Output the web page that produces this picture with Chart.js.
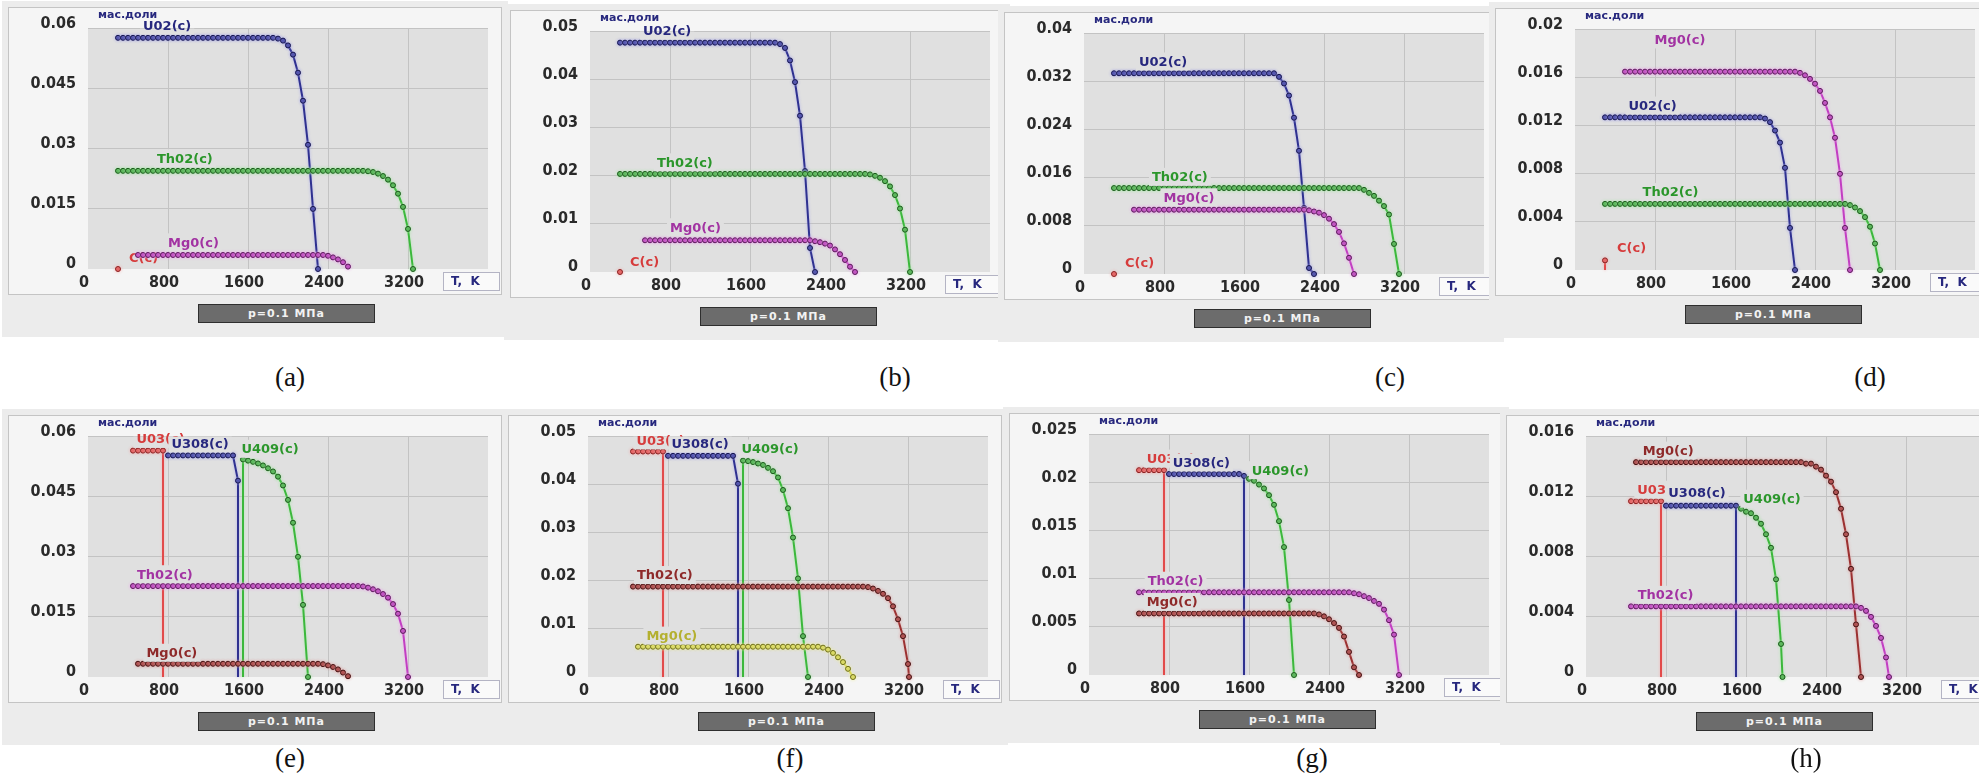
<!DOCTYPE html>
<html>
<head>
<meta charset="utf-8">
<script src="https://cdn.jsdelivr.net/npm/chart.js@4.4.1/dist/chart.umd.min.js"></script>
<style>
  html, body { margin: 0; padding: 0; background: #fff; }
  body { width: 1979px; height: 778px; overflow: hidden; position: relative; }
  .win { position: absolute; background: #ececec; }
  .frame { position: absolute; background: #f5f5f5; border: 1px solid #c4c4c4; box-sizing: border-box; }
  canvas { position: absolute; }
  .bar {
    position: absolute; width: 177px; height: 19px; box-sizing: border-box;
    background: #6c6c6c; border: 1px solid #2e2e2e; color: #f2f2f2;
    font: bold 11px "DejaVu Sans", sans-serif; letter-spacing: 1px;
    text-align: center; line-height: 17px;
  }
  .tag { position: absolute; font: 27px "Liberation Serif", serif; color: #111; transform: translate(-50%, -50%); }
</style>
</head>
<body>
<script>
const _ = null;

// temperature grid of the equilibrium calculation, K
const TEMPS = [
  300, 350, 400, 450, 500, 550, 600, 650, 700, 750,
  800, 850, 900, 950, 1000, 1050, 1100, 1150, 1200, 1250,
  1300, 1350, 1400, 1450, 1500, 1550, 1600, 1650, 1700, 1750,
  1800, 1850, 1900, 1950, 2000, 2050, 2100, 2150, 2200, 2250,
  2300, 2350, 2400, 2450, 2500, 2550, 2600, 2650, 2700, 2750,
  2800, 2850, 2900, 2950, 3000, 3050, 3100, 3150, 3200, 3250,
  3300, 3350, 3400
];
const X_TICKS = [0, 800, 1600, 2400, 3200];

const Y_TICKS_A = [0, 0.015, 0.03, 0.045, 0.06];
const Y_TICKS_B = [0, 0.01, 0.02, 0.03, 0.04, 0.05];
const Y_TICKS_C = [0, 0.008, 0.016, 0.024, 0.032, 0.04];
const Y_TICKS_D = [0, 0.004, 0.008, 0.012, 0.016, 0.02];
const Y_TICKS_E = [0, 0.015, 0.03, 0.045, 0.06];
const Y_TICKS_F = [0, 0.01, 0.02, 0.03, 0.04, 0.05];
const Y_TICKS_G = [0, 0.005, 0.01, 0.015, 0.02, 0.025];
const Y_TICKS_H = [0, 0.004, 0.008, 0.012, 0.016];

const CAPTIONS = ['(a)', '(b)', '(c)', '(d)', '(e)', '(f)', '(g)', '(h)'];

// mass fractions of condensed phases on the TEMPS grid (null = phase absent)
// (a)
const A_UO2 = [
  .0577, .0577, .0577, .0577, .0577, .0577, .0577, .0577, .0577, .0577,
  .0577, .0577, .0577, .0577, .0577, .0577, .0577, .0577, .0577, .0577,
  .0577, .0577, .0577, .0577, .0577, .0577, .0577, .0577, .0577, .0577,
  .0577, .0577, .0575, .0570, .0558, .0535, .0490, .0420, .0310, .0150,
  0
];
const A_THO2 = [
  .0245, .0245, .0245, .0245, .0245, .0245, .0245, .0245, .0245, .0245,
  .0245, .0245, .0245, .0245, .0245, .0245, .0245, .0245, .0245, .0245,
  .0245, .0245, .0245, .0245, .0245, .0245, .0245, .0245, .0245, .0245,
  .0245, .0245, .0245, .0245, .0245, .0245, .0245, .0245, .0245, .0245,
  .0245, .0245, .0245, .0245, .0245, .0245, .0245, .0245, .0245, .0245,
  .0244, .0242, .0238, .0232, .0223, .0209, .0188, .0155, .0100, 0
];
const A_MGO = [
  _, _, _, _, .0035, .0035, .0035, .0035, .0035, .0035,
  .0035, .0035, .0035, .0035, .0035, .0035, .0035, .0035, .0035, .0035,
  .0035, .0035, .0035, .0035, .0035, .0035, .0035, .0035, .0035, .0035,
  .0035, .0035, .0035, .0035, .0035, .0035, .0035, .0035, .0035, .0035,
  .0035, .0035, .0033, .0029, .0024, .0017, .0006
];
const A_C = [0];

// (b)
const B_UO2 = [
  .0477, .0477, .0477, .0477, .0477, .0477, .0477, .0477, .0477, .0477,
  .0477, .0477, .0477, .0477, .0477, .0477, .0477, .0477, .0477, .0477,
  .0477, .0477, .0477, .0477, .0477, .0477, .0477, .0477, .0477, .0477,
  .0477, .0477, .0474, .0466, .0440, .0395, .0325, .0210, .0050, 0
];
const B_THO2 = [
  .0204, .0204, .0204, .0204, .0204, .0204, .0204, .0204, .0204, .0204,
  .0204, .0204, .0204, .0204, .0204, .0204, .0204, .0204, .0204, .0204,
  .0204, .0204, .0204, .0204, .0204, .0204, .0204, .0204, .0204, .0204,
  .0204, .0204, .0204, .0204, .0204, .0204, .0204, .0204, .0204, .0204,
  .0204, .0204, .0204, .0204, .0204, .0204, .0204, .0204, .0204, .0204,
  .0203, .0200, .0196, .0189, .0178, .0160, .0132, .0088, 0
];
const B_MGO = [
  _, _, _, _, _, .0066, .0066, .0066, .0066, .0066,
  .0066, .0066, .0066, .0066, .0066, .0066, .0066, .0066, .0066, .0066,
  .0066, .0066, .0066, .0066, .0066, .0066, .0066, .0066, .0066, .0066,
  .0066, .0066, .0066, .0066, .0066, .0066, .0066, .0066, .0066, .0064,
  .0062, .0059, .0055, .0047, .0037, .0025, .0011, 0
];
const B_C = [0];

// (c)
const C_UO2 = [
  .0334, .0334, .0334, .0334, .0334, .0334, .0334, .0334, .0334, .0334,
  .0334, .0334, .0334, .0334, .0334, .0334, .0334, .0334, .0334, .0334,
  .0334, .0334, .0334, .0334, .0334, .0334, .0334, .0334, .0334, .0334,
  .0334, .0334, .0334, .0328, .0317, .0297, .0260, .0205, .0110, .0010,
  0
];
const C_THO2 = [
  .0143, .0143, .0143, .0143, .0143, .0143, .0143, .0143, .0143, .0143,
  .0143, .0143, .0143, .0143, .0143, .0143, .0143, .0143, .0143, .0143,
  .0143, .0143, .0143, .0143, .0143, .0143, .0143, .0143, .0143, .0143,
  .0143, .0143, .0143, .0143, .0143, .0143, .0143, .0143, .0143, .0143,
  .0143, .0143, .0143, .0143, .0143, .0143, .0143, .0143, .0143, .0143,
  .0140, .0135, .0130, .0122, .0113, .0099, .0050, 0
];
const C_MGO = [
  _, _, _, _, .0107, .0107, .0107, .0107, .0107, .0107,
  .0107, .0107, .0107, .0107, .0107, .0107, .0107, .0107, .0107, .0107,
  .0107, .0107, .0107, .0107, .0107, .0107, .0107, .0107, .0107, .0107,
  .0107, .0107, .0107, .0107, .0107, .0107, .0107, .0107, .0107, .0106,
  .0104, .0102, .0098, .0092, .0083, .0070, .0051, .0027, 0
];
const C_C = [0];

// (d)
const D_MGO = [
  _, _, _, _, .0165, .0165, .0165, .0165, .0165, .0165,
  .0165, .0165, .0165, .0165, .0165, .0165, .0165, .0165, .0165, .0165,
  .0165, .0165, .0165, .0165, .0165, .0165, .0165, .0165, .0165, .0165,
  .0165, .0165, .0165, .0165, .0165, .0165, .0165, .0165, .0165, .0164,
  .0162, .0159, .0155, .0149, .0139, .0127, .0110, .0080, .0035, 0
];
const D_UO2 = [
  .0127, .0127, .0127, .0127, .0127, .0127, .0127, .0127, .0127, .0127,
  .0127, .0127, .0127, .0127, .0127, .0127, .0127, .0127, .0127, .0127,
  .0127, .0127, .0127, .0127, .0127, .0127, .0127, .0127, .0127, .0127,
  .0127, .0127, .0126, .0123, .0116, .0106, .0085, .0035, 0
];
const D_THO2 = [
  .0055, .0055, .0055, .0055, .0055, .0055, .0055, .0055, .0055, .0055,
  .0055, .0055, .0055, .0055, .0055, .0055, .0055, .0055, .0055, .0055,
  .0055, .0055, .0055, .0055, .0055, .0055, .0055, .0055, .0055, .0055,
  .0055, .0055, .0055, .0055, .0055, .0055, .0055, .0055, .0055, .0055,
  .0055, .0055, .0055, .0055, .0055, .0055, .0055, .0055, .0055, .0054,
  .0052, .0049, .0044, .0036, .0022, 0
];
const D_C = [.0008];

// (e)
const E_UO3 = [_, _, _, .0565, .0565, .0565, .0565, .0565, .0565, .0565];
const E_U3O8 = [
  _, _, _, _, _, _, _, _, _, _,
  .0553, .0553, .0553, .0553, .0553, .0553, .0553, .0553, .0553, .0553,
  .0553, .0553, .0553, .0553, .0490
];
const E_U4O9 = [
  _, _, _, _, _, _, _, _, _, _,
  _, _, _, _, _, _, _, _, _, _,
  _, _, _, _, _, .0543, .0540, .0537, .0533, .0528,
  .0521, .0513, .0500, .0478, .0442, .0385, .0300, .0180, 0
];
const E_THO2 = [
  _, _, _, .0227, .0227, .0227, .0227, .0227, .0227, .0227,
  .0227, .0227, .0227, .0227, .0227, .0227, .0227, .0227, .0227, .0227,
  .0227, .0227, .0227, .0227, .0227, .0227, .0227, .0227, .0227, .0227,
  .0227, .0227, .0227, .0227, .0227, .0227, .0227, .0227, .0227, .0227,
  .0227, .0227, .0227, .0227, .0227, .0227, .0227, .0227, .0227, .0226,
  .0223, .0219, .0214, .0207, .0198, .0182, .0158, .0115, 0
];
const E_MGO = [
  _, _, _, _, .0033, .0033, .0033, .0033, .0033, .0033,
  .0033, .0033, .0033, .0033, .0033, .0033, .0033, .0033, .0033, .0033,
  .0033, .0033, .0033, .0033, .0033, .0033, .0033, .0033, .0033, .0033,
  .0033, .0033, .0033, .0033, .0033, .0033, .0033, .0033, .0033, .0033,
  .0033, .0032, .0029, .0025, .0019, .0011, .0002
];

// (f)
const F_UO3 = [_, _, _, .0469, .0469, .0469, .0469, .0469, .0469, .0469];
const F_U3O8 = [
  _, _, _, _, _, _, _, _, _, _,
  .0460, .0460, .0460, .0460, .0460, .0460, .0460, .0460, .0460, .0460,
  .0460, .0460, .0460, .0460, .0402
];
const F_U4O9 = [
  _, _, _, _, _, _, _, _, _, _,
  _, _, _, _, _, _, _, _, _, _,
  _, _, _, _, _, .0450, .0449, .0447, .0444, .0441,
  .0435, .0428, .0415, .0389, .0351, .0290, .0205, .0085, 0
];
const F_THO2 = [
  _, _, _, .0188, .0188, .0188, .0188, .0188, .0188, .0188,
  .0188, .0188, .0188, .0188, .0188, .0188, .0188, .0188, .0188, .0188,
  .0188, .0188, .0188, .0188, .0188, .0188, .0188, .0188, .0188, .0188,
  .0188, .0188, .0188, .0188, .0188, .0188, .0188, .0188, .0188, .0188,
  .0188, .0188, .0188, .0188, .0188, .0188, .0188, .0188, .0188, .0188,
  .0187, .0184, .0179, .0173, .0164, .0147, .0120, .0085, .0027
];
const F_MGO = [
  _, _, _, _, .0063, .0063, .0063, .0063, .0063, .0063,
  .0063, .0063, .0063, .0063, .0063, .0063, .0063, .0063, .0063, .0063,
  .0063, .0063, .0063, .0063, .0063, .0063, .0063, .0063, .0063, .0063,
  .0063, .0063, .0063, .0063, .0063, .0063, .0063, .0063, .0063, .0063,
  .0063, .0061, .0057, .0050, .0041, .0031, .0017, 0
];

// (g)
const G_UO3 = [_, _, _, _, .0213, .0213, .0213, .0213, .0213, .0213];
const G_U3O8 = [
  _, _, _, _, _, _, _, _, _, _,
  .0209, .0209, .0209, .0209, .0209, .0209, .0209, .0209, .0209, .0209,
  .0209, .0209, .0209, .0209, .0209, .0207
];
const G_U4O9 = [
  _, _, _, _, _, _, _, _, _, _,
  _, _, _, _, _, _, _, _, _, _,
  _, _, _, _, _, _, .0204, .0202, .0198, .0194,
  .0187, .0177, .0160, .0133, .0078, 0
];
const G_THO2 = [
  _, _, _, _, .0086, .0086, .0086, .0086, .0086, .0086,
  .0086, .0086, .0086, .0086, .0086, .0086, .0086, .0086, .0086, .0086,
  .0086, .0086, .0086, .0086, .0086, .0086, .0086, .0086, .0086, .0086,
  .0086, .0086, .0086, .0086, .0086, .0086, .0086, .0086, .0086, .0086,
  .0086, .0086, .0086, .0086, .0086, .0086, .0086, .0085, .0084, .0082,
  .0080, .0077, .0074, .0068, .0057, .0042, 0
];
const G_MGO = [
  _, _, _, _, .0064, .0064, .0064, .0064, .0064, .0064,
  .0064, .0064, .0064, .0064, .0064, .0064, .0064, .0064, .0064, .0064,
  .0064, .0064, .0064, .0064, .0064, .0064, .0064, .0064, .0064, .0064,
  .0064, .0064, .0064, .0064, .0064, .0064, .0064, .0064, .0064, .0064,
  .0063, .0061, .0058, .0054, .0049, .0040, .0024, .0008, 0
];

// (h)
const H_MGO = [
  _, _, _, _, .0143, .0143, .0143, .0143, .0143, .0143,
  .0143, .0143, .0143, .0143, .0143, .0143, .0143, .0143, .0143, .0143,
  .0143, .0143, .0143, .0143, .0143, .0143, .0143, .0143, .0143, .0143,
  .0143, .0143, .0143, .0143, .0143, .0143, .0143, .0143, .0142, .0142,
  .0140, .0138, .0134, .0130, .0123, .0112, .0095, .0072, .0035, 0
];
const H_UO3 = [_, _, _, .0117, .0117, .0117, .0117, .0117, .0117, .0117];
const H_U3O8 = [
  _, _, _, _, _, _, _, _, _, _,
  .0114, .0114, .0114, .0114, .0114, .0114, .0114, .0114, .0114, .0114,
  .0114, .0114, .0114, .0114, .0114
];
const H_U4O9 = [
  _, _, _, _, _, _, _, _, _, _,
  _, _, _, _, _, _, _, _, _, _,
  _, _, _, _, _, .0112, .0110, .0109, .0106, .0102,
  .0095, .0086, .0065, .0022
];
const H_THO2 = [
  _, _, _, .0047, .0047, .0047, .0047, .0047, .0047, .0047,
  .0047, .0047, .0047, .0047, .0047, .0047, .0047, .0047, .0047, .0047,
  .0047, .0047, .0047, .0047, .0047, .0047, .0047, .0047, .0047, .0047,
  .0047, .0047, .0047, .0047, .0047, .0047, .0047, .0047, .0047, .0047,
  .0047, .0047, .0047, .0047, .0047, .0047, .0047, .0047, .0047, .0046,
  .0044, .0040, .0034, .0026, .0013
];

const PALETTE = {
  navy:    { line: '#2f3190', fill: '#3a3c9c', point: '#16164e', text: '#27287e', halo: 'rgba(170,170,235,0.9)' },
  green:   { line: '#3cb83c', fill: '#44a844', point: '#1c5a1c', text: '#2b962b', halo: 'rgba(170,235,170,0.9)' },
  magenta: { line: '#c23fc2', fill: '#b43ab4', point: '#5a1a5a', text: '#a233a2', halo: 'rgba(240,170,240,0.9)' },
  red:     { line: '#e24a4a', fill: '#e05050', point: '#8a2222', text: '#d63c3c', halo: 'rgba(245,175,175,0.9)' },
  maroon:  { line: '#9b3131', fill: '#a03838', point: '#441212', text: '#8e2a2a', halo: 'rgba(230,170,170,0.9)' },
  yellow:  { line: '#d8d84c', fill: '#d4d450', point: '#6e6e1a', text: '#b4b030', halo: 'rgba(240,240,170,0.9)' }
};
const PLOT_BG = '#e0e0e0';
const INK = '#27287e';

// head/tail: ends of vertical jumps (no marker), extra: off-grid computed points
const PANELS = [
  { plot: [88, 27], caption: [290, 377], yTicks: Y_TICKS_A, series: [
    { name: 'U02(c)', values: A_UO2, color: 'navy', tagAt: [550, .0605] },
    { name: 'Th02(c)', values: A_THO2, color: 'green', tagAt: [690, .0274] },
    { name: 'C(c)', values: A_C, color: 'red', tagAt: [410, .0025] },
    { name: 'Mg0(c)', values: A_MGO, color: 'magenta', tagAt: [800, .0064] }
  ]},
  { plot: [590, 30], caption: [895, 377], yTicks: Y_TICKS_B, series: [
    { name: 'U02(c)', values: B_UO2, color: 'navy', tagAt: [530, .0500] },
    { name: 'Th02(c)', values: B_THO2, color: 'green', tagAt: [670, .0226] },
    { name: 'C(c)', values: B_C, color: 'red', tagAt: [400, .0019] },
    { name: 'Mg0(c)', values: B_MGO, color: 'magenta', tagAt: [800, .0091] }
  ]},
  { plot: [1084, 32], caption: [1390, 377], yTicks: Y_TICKS_C, series: [
    { name: 'U02(c)', values: C_UO2, color: 'navy', tagAt: [550, .0352] },
    { name: 'Th02(c)', values: C_THO2, color: 'green', tagAt: [680, .0160] },
    { name: 'C(c)', values: C_C, color: 'red', tagAt: [410, .0017] },
    { name: 'Mg0(c)', values: C_MGO, color: 'magenta', tagAt: [795, .0126] }
  ]},
  { plot: [1575, 28], caption: [1870, 377], yTicks: Y_TICKS_D, series: [
    { name: 'Mg0(c)', values: D_MGO, color: 'magenta', tagAt: [795, .0191] },
    { name: 'U02(c)', values: D_UO2, color: 'navy', tagAt: [535, .0136] },
    { name: 'Th02(c)', values: D_THO2, color: 'green', tagAt: [676, .0064] },
    { name: 'C(c)', values: D_C, color: 'red', tagAt: [420, .0018], head: [[300, 0]] }
  ]},
  { plot: [88, 435], caption: [290, 758], yTicks: Y_TICKS_E, series: [
    { name: 'U03(c)', values: E_UO3, color: 'red', tagAt: [484, .0592], tail: [[750, 0]] },
    { name: 'U308(c)', values: E_U3O8, color: 'navy', tagAt: [834, .0581], tail: [[1500, 0]] },
    { name: 'U409(c)', values: E_U4O9, color: 'green', tagAt: [1534, .0567], head: [[1550, 0]] },
    { name: 'Th02(c)', values: E_THO2, color: 'magenta', tagAt: [490, .0254] },
    { name: 'Mg0(c)', values: E_MGO, color: 'maroon', tagAt: [584, .0058] }
  ]},
  { plot: [588, 435], caption: [790, 758], yTicks: Y_TICKS_F, series: [
    { name: 'U03(c)', values: F_UO3, color: 'red', tagAt: [484, .0490], tail: [[750, 0]] },
    { name: 'U308(c)', values: F_U3O8, color: 'navy', tagAt: [834, .0484], tail: [[1500, 0]] },
    { name: 'U409(c)', values: F_U4O9, color: 'green', tagAt: [1534, .0473], head: [[1550, 0]] },
    { name: 'Th02(c)', values: F_THO2, color: 'maroon', tagAt: [490, .0210], extra: [[3210, 0]] },
    { name: 'Mg0(c)', values: F_MGO, color: 'yellow', tagAt: [584, .0084] }
  ]},
  { plot: [1089, 433], caption: [1312, 758], yTicks: Y_TICKS_G, series: [
    { name: 'U03(c)', values: G_UO3, color: 'red', tagAt: [577, .0224], tail: [[750, 0]] },
    { name: 'U308(c)', values: G_U3O8, color: 'navy', tagAt: [837, .0220], tail: [[1550, 0]] },
    { name: 'U409(c)', values: G_U4O9, color: 'green', tagAt: [1627, .0212] },
    { name: 'Th02(c)', values: G_THO2, color: 'magenta', tagAt: [587, .0097] },
    { name: 'Mg0(c)', values: G_MGO, color: 'maroon', tagAt: [577, .0075] }
  ]},
  { plot: [1586, 435], caption: [1806, 758], yTicks: Y_TICKS_H, series: [
    { name: 'Mg0(c)', values: H_MGO, color: 'maroon', tagAt: [567, .0150] },
    { name: 'U03(c)', values: H_UO3, color: 'red', tagAt: [513, .0124], tail: [[750, 0]] },
    { name: 'U308(c)', values: H_U3O8, color: 'navy', tagAt: [823, .0122], tail: [[1500, 0]] },
    { name: 'U409(c)', values: H_U4O9, color: 'green', tagAt: [1573, .0118], extra: [[1965, 0]] },
    { name: 'Th02(c)', values: H_THO2, color: 'magenta', tagAt: [517, .0054], extra: [[3030, 0]] }
  ]}
];

const PLOT_W = 400, PLOT_H = 242;
const AXIS_W = 80, TOP_PAD = 20, RIGHT_PAD = 14, AXIS_H = 26;
const tickFont = { family: "'Liberation Sans Narrow', 'DejaVu Sans Condensed', sans-serif", size: 16, weight: 'bold' };

function buildPoints(s) {
  const pts = (s.head || []).map(([x, y]) => ({ x, y, edge: true }));
  s.values.forEach((v, i) => { if (v !== null) pts.push({ x: TEMPS[i], y: v }); });
  (s.extra || []).forEach(([x, y]) => pts.push({ x, y }));
  (s.tail || []).forEach(([x, y]) => pts.push({ x, y, edge: true }));
  return pts;
}

const plotBg = {
  id: 'plotBg',
  beforeDraw(chart) {
    const { ctx, chartArea: a } = chart;
    ctx.save();
    ctx.fillStyle = PLOT_BG;
    ctx.fillRect(a.left, a.top, a.width, a.height);
    ctx.restore();
  }
};

// soft glow under each curve, and its name drawn right after it
const curveTags = {
  id: 'curveTags',
  beforeDatasetDraw(chart, args) {
    const ds = chart.data.datasets[args.index];
    chart.ctx.save();
    chart.ctx.shadowColor = ds.halo;
    chart.ctx.shadowBlur = 3;
  },
  afterDatasetDraw(chart, args) {
    const { ctx, chartArea: a } = chart;
    ctx.restore();
    const ds = chart.data.datasets[args.index];
    const x = chart.scales.x.getPixelForValue(ds.tagAt[0]);
    const y = chart.scales.y.getPixelForValue(ds.tagAt[1]);
    ctx.save();
    ctx.font = 'bold 13px "DejaVu Sans", sans-serif';
    const w = ctx.measureText(ds.label).width;
    const x0 = Math.max(x - 3, a.left), x1 = Math.min(x + w + 3, a.right);
    const y0 = Math.max(y - 10, a.top), y1 = Math.min(y + 8, a.bottom);
    if (x1 > x0 && y1 > y0) {
      ctx.fillStyle = PLOT_BG;
      ctx.fillRect(x0, y0, x1 - x0, y1 - y0);
    }
    ctx.fillStyle = ds.tagColor;
    ctx.textAlign = 'left';
    ctx.textBaseline = 'middle';
    ctx.fillText(ds.label, x, y);
    ctx.restore();
  }
};

const axisNotes = {
  id: 'axisNotes',
  afterDraw(chart) {
    const { ctx, chartArea: a } = chart;
    ctx.save();
    ctx.fillStyle = INK;
    ctx.textBaseline = 'middle';
    ctx.font = 'bold 11px "DejaVu Sans", sans-serif';
    ctx.fillText('мас.доли', a.left + 10, a.top - 13);
    ctx.fillStyle = '#fafafa';
    ctx.fillRect(a.right - 45, a.bottom + 3, 57, 19);
    ctx.strokeStyle = '#b4b4c4';
    ctx.lineWidth = 1;
    ctx.strokeRect(a.right - 44.5, a.bottom + 3.5, 56, 18);
    ctx.fillStyle = INK;
    ctx.font = 'bold 12px "DejaVu Sans", sans-serif';
    ctx.fillText('T,  K', a.right - 37, a.bottom + 13);
    ctx.restore();
  }
};

function addBox(cls, left, top, width, height) {
  const el = document.createElement('div');
  el.className = cls;
  el.style.left = left + 'px';
  el.style.top = top + 'px';
  if (width) el.style.width = width + 'px';
  if (height) el.style.height = height + 'px';
  document.body.appendChild(el);
  return el;
}

PANELS.forEach((p, k) => {
  const [pl, pt] = p.plot;
  addBox('win', pl - 86, pt - 26, 506, PLOT_H + 26 + 68);
  addBox('frame', pl - AXIS_W, pt - TOP_PAD, AXIS_W + PLOT_W + RIGHT_PAD, TOP_PAD + PLOT_H + AXIS_H);
  const bar = addBox('bar', pl + 110, pt + PLOT_H + 35);
  bar.textContent = 'p=0.1  МПа';
  const cap = addBox('tag', p.caption[0], p.caption[1]);
  cap.textContent = CAPTIONS[k];

  const canvas = document.createElement('canvas');
  canvas.width = AXIS_W + PLOT_W + RIGHT_PAD;
  canvas.height = TOP_PAD + PLOT_H + AXIS_H;
  canvas.style.left = (pl - AXIS_W) + 'px';
  canvas.style.top = (pt - TOP_PAD) + 'px';
  document.body.appendChild(canvas);

  const n = p.series.length;
  const datasets = p.series.map((s, i) => {
    const c = PALETTE[s.color];
    const pts = buildPoints(s);
    return {
      label: s.name,
      data: pts,
      showLine: true,
      borderColor: c.line,
      backgroundColor: c.line,
      borderWidth: 2,
      pointBackgroundColor: c.fill,
      pointBorderColor: c.point,
      pointBorderWidth: 1,
      pointRadius: pts.map(q => (q.edge ? 0 : 2.5)),
      tension: 0,
      clip: 8,
      order: n - i,
      halo: c.halo,
      tagColor: c.text,
      tagAt: s.tagAt
    };
  });

  const yTicks = p.yTicks;
  const gridColor = ctx => (ctx.tick && ctx.tick.value === 0 ? 'rgba(0,0,0,0)' : '#c3c3c3');

  new Chart(canvas, {
    type: 'scatter',
    data: { datasets },
    options: {
      responsive: false,
      animation: false,
      devicePixelRatio: 1,
      events: [],
      layout: { padding: { top: TOP_PAD, right: RIGHT_PAD, left: 0, bottom: 0 } },
      plugins: { legend: { display: false }, tooltip: { enabled: false } },
      scales: {
        x: {
          type: 'linear', min: 0, max: 4000,
          afterFit: s => { s.height = AXIS_H; },
          afterBuildTicks: s => { s.ticks = X_TICKS.map(value => ({ value })); },
          border: { display: false },
          grid: { color: gridColor, drawTicks: false },
          ticks: { color: '#2a2a2a', font: tickFont, padding: 4, labelOffset: -4, autoSkip: false, maxRotation: 0, callback: v => String(v) }
        },
        y: {
          type: 'linear', min: 0, max: yTicks[yTicks.length - 1],
          afterFit: s => { s.width = AXIS_W; },
          afterBuildTicks: s => { s.ticks = yTicks.map(value => ({ value })); },
          border: { display: false },
          grid: { color: gridColor, drawTicks: false },
          ticks: { color: '#2a2a2a', font: tickFont, padding: 12, labelOffset: -5, autoSkip: false, callback: v => String(v) }
        }
      }
    },
    plugins: [plotBg, curveTags, axisNotes]
  });
});
</script>
</body>
</html>
